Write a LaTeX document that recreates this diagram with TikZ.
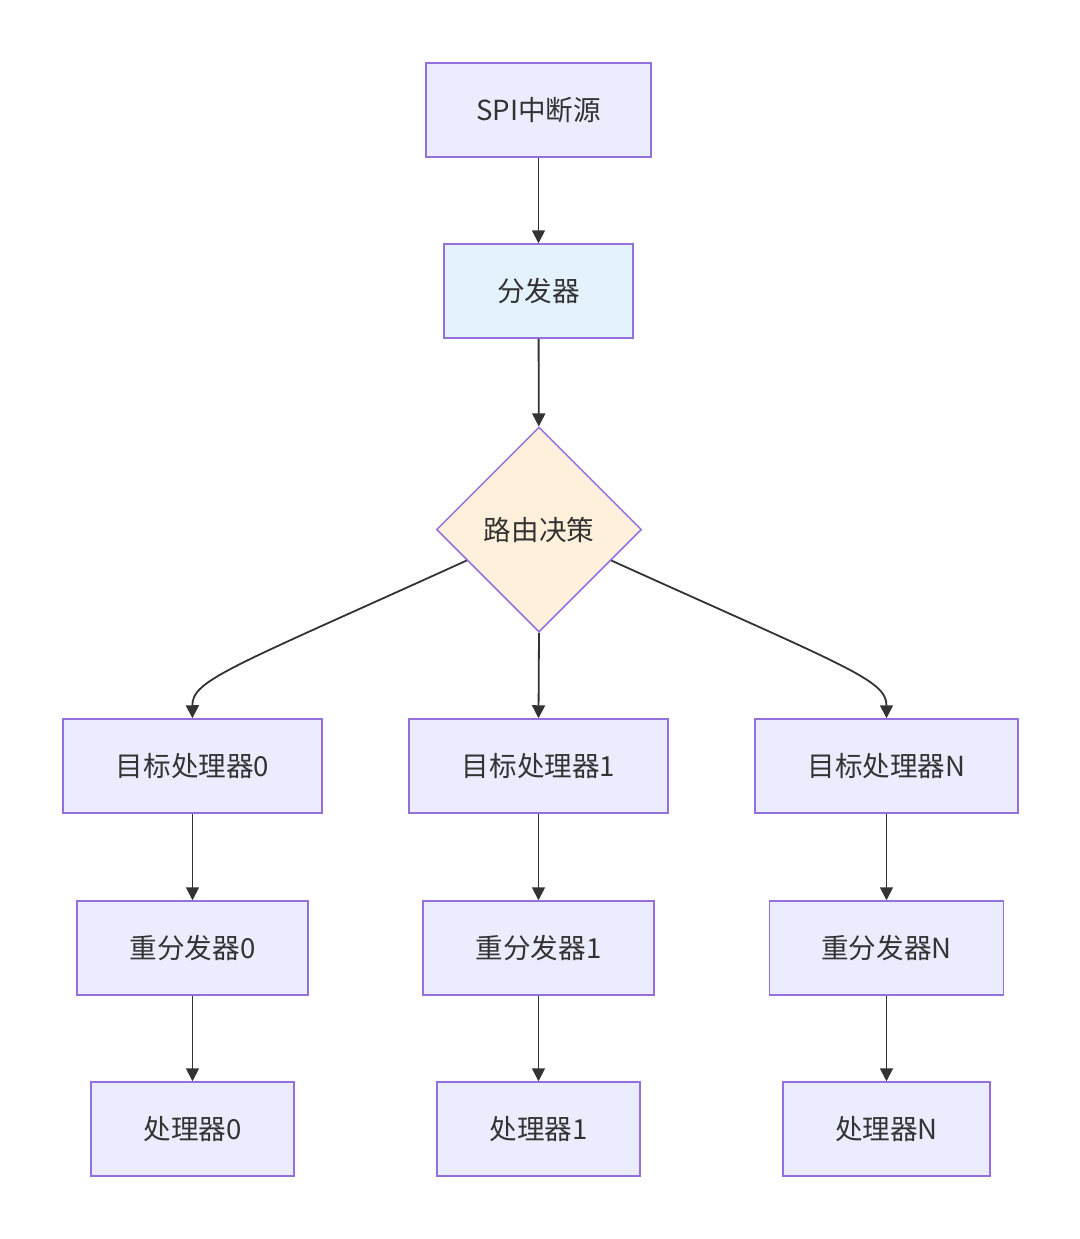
\documentclass[tikz,border=0pt]{standalone}
\usepackage{fontspec}
\setmainfont{Noto Sans CJK SC}
\usepackage{xcolor}
\usetikzlibrary{
  positioning,
  arrows.meta,
  shapes.geometric,
  calc
}
\definecolor{boxfill}{HTML}{ECECFF}
\definecolor{boxline}{HTML}{9370DB}
\definecolor{distfill}{HTML}{E3F2FD}
\definecolor{decfill}{HTML}{FFF0DC}
\definecolor{ink}{HTML}{333333}
\tikzset{
  flowarrow/.style={-{Triangle[length=6.5pt,width=6.5pt]},line width=0.9pt,draw=ink},
  procbox/.style={rectangle,draw=boxline,fill=boxfill,line width=0.75pt,minimum height=47pt,align=center,inner sep=2pt,text=ink},
  decision/.style={diamond,draw=boxline,fill=decfill,line width=0.75pt,aspect=1,minimum width=102.5pt,minimum height=102.5pt,inner sep=0pt,text=ink}
}

\begin{document}
\begin{tikzpicture}[x=0.5pt,y=-0.5pt,font=\fontsize{13.8pt}{16pt}\selectfont]
    \useasboundingbox (0,0) rectangle (1080,1239);
    \node[procbox,minimum width=112.5pt] (src) at (538.5,110) {SPI中断源};
    \node[procbox,fill=distfill,minimum width=94.5pt] (dist) at (538.5,291) {分发器};
    \node[decision] (dec) at (539,529.5) {路由决策};
    \draw[flowarrow] (src) -- (dist);
    \draw[flowarrow] (dist) -- (dec);

    \foreach \x/\id/\lbl/\wa/\wb/\wc in {192.5/0/0/259/231/203,538.5/1/1/259/231/203,886.5/n/N/263/234/207}{
        \node[procbox,minimum width=\wa*0.5pt] (t\id) at (\x,766) {目标处理器\lbl};
        \node[procbox,minimum width=\wb*0.5pt] (r\id) at (\x,948) {重分发器\lbl};
        \node[procbox,minimum width=\wc*0.5pt] (p\id) at (\x,1129) {处理器\lbl};
        \draw[flowarrow] (t\id) -- (r\id);
        \draw[flowarrow] (r\id) -- (p\id);
    }

    \draw[flowarrow] ($(dec.west)!0.3!(dec.south)$) .. controls (230,668) and (192,680) .. (t0.north);
    \draw[flowarrow] (dec.south) -- (t1.north);
    \draw[flowarrow] ($(dec.east)!0.3!(dec.south)$) .. controls (849,668) and (886.5,680) .. (tn.north);
\end{tikzpicture}
\end{document}
